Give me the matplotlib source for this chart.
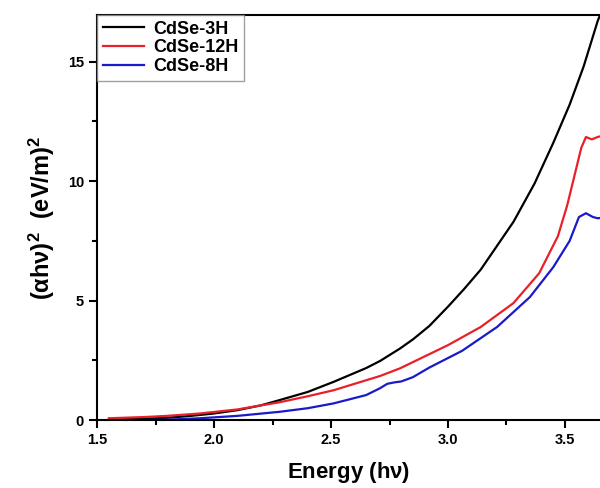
import numpy as np
import matplotlib
matplotlib.use("Agg")
import matplotlib.pyplot as plt
from matplotlib.ticker import MultipleLocator

plt.rcParams['font.family'] = ['Liberation Sans', 'DejaVu Sans']
plt.rcParams['font.weight'] = 'bold'
plt.rcParams['mathtext.fontset'] = 'custom'
plt.rcParams['mathtext.rm'] = 'Liberation Sans:bold'
plt.rcParams['mathtext.it'] = 'Liberation Sans:bold'
plt.rcParams['mathtext.bf'] = 'Liberation Sans:bold'

# data
e_3h = [1.55, 1.7, 1.8, 1.9, 2.0, 2.1, 2.2, 2.28, 2.4, 2.51, 2.65, 2.71, 2.795, 2.85, 2.92, 3.0, 3.07, 3.14, 3.21, 3.28, 3.37, 3.45, 3.52, 3.58, 3.64, 3.66]
v_3h = [0.03, 0.06, 0.1, 0.18, 0.28, 0.42, 0.62, 0.84, 1.18, 1.6, 2.18, 2.48, 3.0, 3.38, 3.94, 4.75, 5.5, 6.3, 7.3, 8.3, 9.9, 11.6, 13.2, 14.8, 16.7, 17.2]

e_12h = [1.55, 1.7, 1.8, 1.94, 2.1, 2.28, 2.4, 2.51, 2.65, 2.71, 2.795, 2.85, 3.0, 3.14, 3.28, 3.39, 3.47, 3.51, 3.54, 3.57, 3.59, 3.615, 3.64, 3.66]
v_12h = [0.08, 0.13, 0.18, 0.28, 0.45, 0.75, 1.0, 1.25, 1.67, 1.85, 2.17, 2.43, 3.14, 3.9, 4.9, 6.15, 7.7, 9.0, 10.2, 11.4, 11.85, 11.75, 11.85, 11.9]

e_8h = [1.55, 1.7, 1.8, 1.94, 2.1, 2.28, 2.4, 2.51, 2.65, 2.71, 2.74, 2.77, 2.8, 2.85, 2.92, 3.06, 3.21, 3.35, 3.45, 3.52, 3.56, 3.59, 3.62, 3.64, 3.66]
v_8h = [0.0, 0.0, 0.02, 0.08, 0.18, 0.35, 0.5, 0.7, 1.05, 1.34, 1.52, 1.58, 1.62, 1.8, 2.2, 2.9, 3.9, 5.15, 6.4, 7.5, 8.5, 8.66, 8.5, 8.45, 8.47]

fig = plt.figure(figsize=(6, 4.88), dpi=100)
ax = fig.add_axes([0.162, 0.139, 0.838, 0.830])

ax.plot(e_3h, v_3h, color='black', lw=1.6, label='CdSe-3H')
ax.plot(e_12h, v_12h, color='#e8202a', lw=1.6, label='CdSe-12H')
ax.plot(e_8h, v_8h, color='#1a1ac8', lw=1.6, label='CdSe-8H')

ax.set_xlim(1.5, 3.65)
ax.set_ylim(0, 16.95)
ax.spines['right'].set_visible(False)
for s in ['top', 'left', 'bottom']:
    ax.spines[s].set_linewidth(1.5)

ax.xaxis.set_major_locator(MultipleLocator(0.5))
ax.xaxis.set_minor_locator(MultipleLocator(0.25))
ax.yaxis.set_major_locator(MultipleLocator(5))
ax.yaxis.set_minor_locator(MultipleLocator(2.5))
ax.tick_params(which='major', direction='out', length=6, width=1.5, labelsize=10.5)
ax.tick_params(which='minor', direction='out', length=3.5, width=1.5)
ax.xaxis.set_major_formatter(plt.FuncFormatter(lambda v, p: f"{v:.1f}"))
ax.yaxis.set_major_formatter(plt.FuncFormatter(lambda v, p: f"{v:.0f}"))

ax.set_xlabel(r'Energy (h$\nu$)', fontsize=16, fontweight='bold', labelpad=9)
ax.set_ylabel(r'$(\alpha h\nu)^2$  (eV/m)$^2$', fontsize=17, fontweight='bold', labelpad=8)

leg = ax.legend(loc='upper left', fontsize=13, frameon=True, fancybox=False,
                borderaxespad=0, handlelength=2.3, handletextpad=0.5,
                labelspacing=0.1, borderpad=0.3)
leg.get_frame().set_edgecolor('#888888')
leg.get_frame().set_linewidth(1.0)

fig.savefig('out.png', dpi=100)
